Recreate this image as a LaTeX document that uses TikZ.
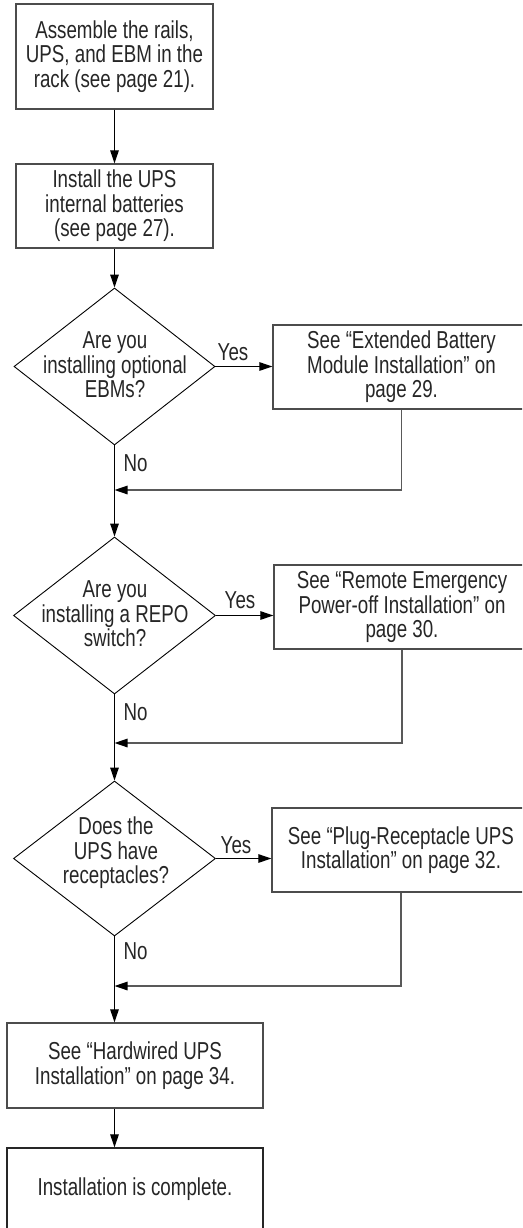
\documentclass[tikz,border=0pt]{standalone}
\usepackage{fontspec}
\setmainfont{Liberation Sans}[FakeStretch=0.765]
\usetikzlibrary{shapes.geometric,arrows.meta}
\begin{document}
\begin{tikzpicture}[x=1pt,y=-1pt,
 every node/.style={font=\fontsize{24.5}{24.5}\selectfont, text=black!85},
 box/.style={draw=black!70, line width=1.3pt, inner sep=0pt, align=center},
 dia/.style={draw=black, line width=0.9pt, diamond, inner sep=0pt},
 lbl/.style={inner sep=0pt, align=center},
 flow/.style={draw=black, line width=1.2pt, -{Triangle[length=13pt,width=8.5pt]}},
 ret/.style={draw=black!65, line width=1.3pt, -{Triangle[length=13pt,width=8.5pt,color=black]}},
]
\useasboundingbox (0,0) rectangle (522,1228);
\clip (0,0) rectangle (522,1228);

% main column
\node[box, minimum width=197pt, minimum height=105pt] (b1) at (114.5,56.5) {Assemble the rails,\\UPS, and EBM in the\\rack (see page 21).};
\node[box, minimum width=197pt, minimum height=84pt] (b2) at (114.5,206) {Install the UPS\\internal batteries\\(see page 27).};

\node[dia, minimum width=201pt, minimum height=157pt] (d1) at (114.5,366.5) {};
\node[lbl] (d1t) at (115,365) {Are you\\installing optional\\EBMs?};
\node[dia, minimum width=202pt, minimum height=157pt] (d2) at (114.5,615.5) {};
\node[lbl] (d2t) at (115,614) {Are you\\installing a REPO\\switch?};
\node[dia, minimum width=202pt, minimum height=155pt] (d3) at (114.5,858.5) {};
\node[lbl] (d3t) at (116,853) {Does the\\UPS have\\receptacles?};

\node[box, minimum width=256pt, minimum height=85pt] (b6) at (135,1065.5) {See “Hardwired UPS\\Installation” on page 34.};
\node[box, draw=black!85, minimum width=256pt, minimum height=82pt] (b7) at (135,1189) {Installation is complete.};

% right column
\node[box, minimum width=257pt, minimum height=84pt] (b3) at (401.5,367) {See “Extended Battery\\Module Installation” on\\page 29.};
\node[box, minimum width=256pt, minimum height=84pt] (b4) at (402,607) {See “Remote Emergency\\Power-off Installation” on\\page 30.};
\node[box, minimum width=258pt, minimum height=84pt] (b5) at (401,850) {See “Plug-Receptacle UPS\\Installation” on page 32.};

% labels
\node[lbl] (y1) at (233,352) {Yes};
\node[lbl] (y2) at (240,600) {Yes};
\node[lbl] (y3) at (236,845) {Yes};
\node[lbl] (n1) at (135.5,463) {No};
\node[lbl] (n2) at (135.5,712) {No};
\node[lbl] (n3) at (135.5,951) {No};

% merge points
\coordinate (m1) at (114.5,490);
\coordinate (m2) at (114.5,743);
\coordinate (m3) at (114.5,986);

% main flow
\draw[flow] (b1.south) -- (b2.north);
\draw[flow] (b2.south) -- (d1.north);
\draw[flow] (d1.south) -- (d2.north);
\draw[flow] (d2.south) -- (d3.north);
\draw[flow] (d3.south) -- (d3.south |- b6.north);
\draw[flow] (d3.south |- b6.south) -- (d3.south |- b7.north);

% yes branches
\draw[flow] (d1.east) -- (d1.east -| b3.west);
\draw[flow] (d2.east) -- (d2.east -| b4.west);
\draw[flow] (d3.east) -- (d3.east -| b5.west);

% returns
\draw[ret] (b3.south) |- (m1);
\draw[ret] (b4.south) |- (m2);
\draw[ret] (b5.south) |- (m3);
\end{tikzpicture}
\end{document}
